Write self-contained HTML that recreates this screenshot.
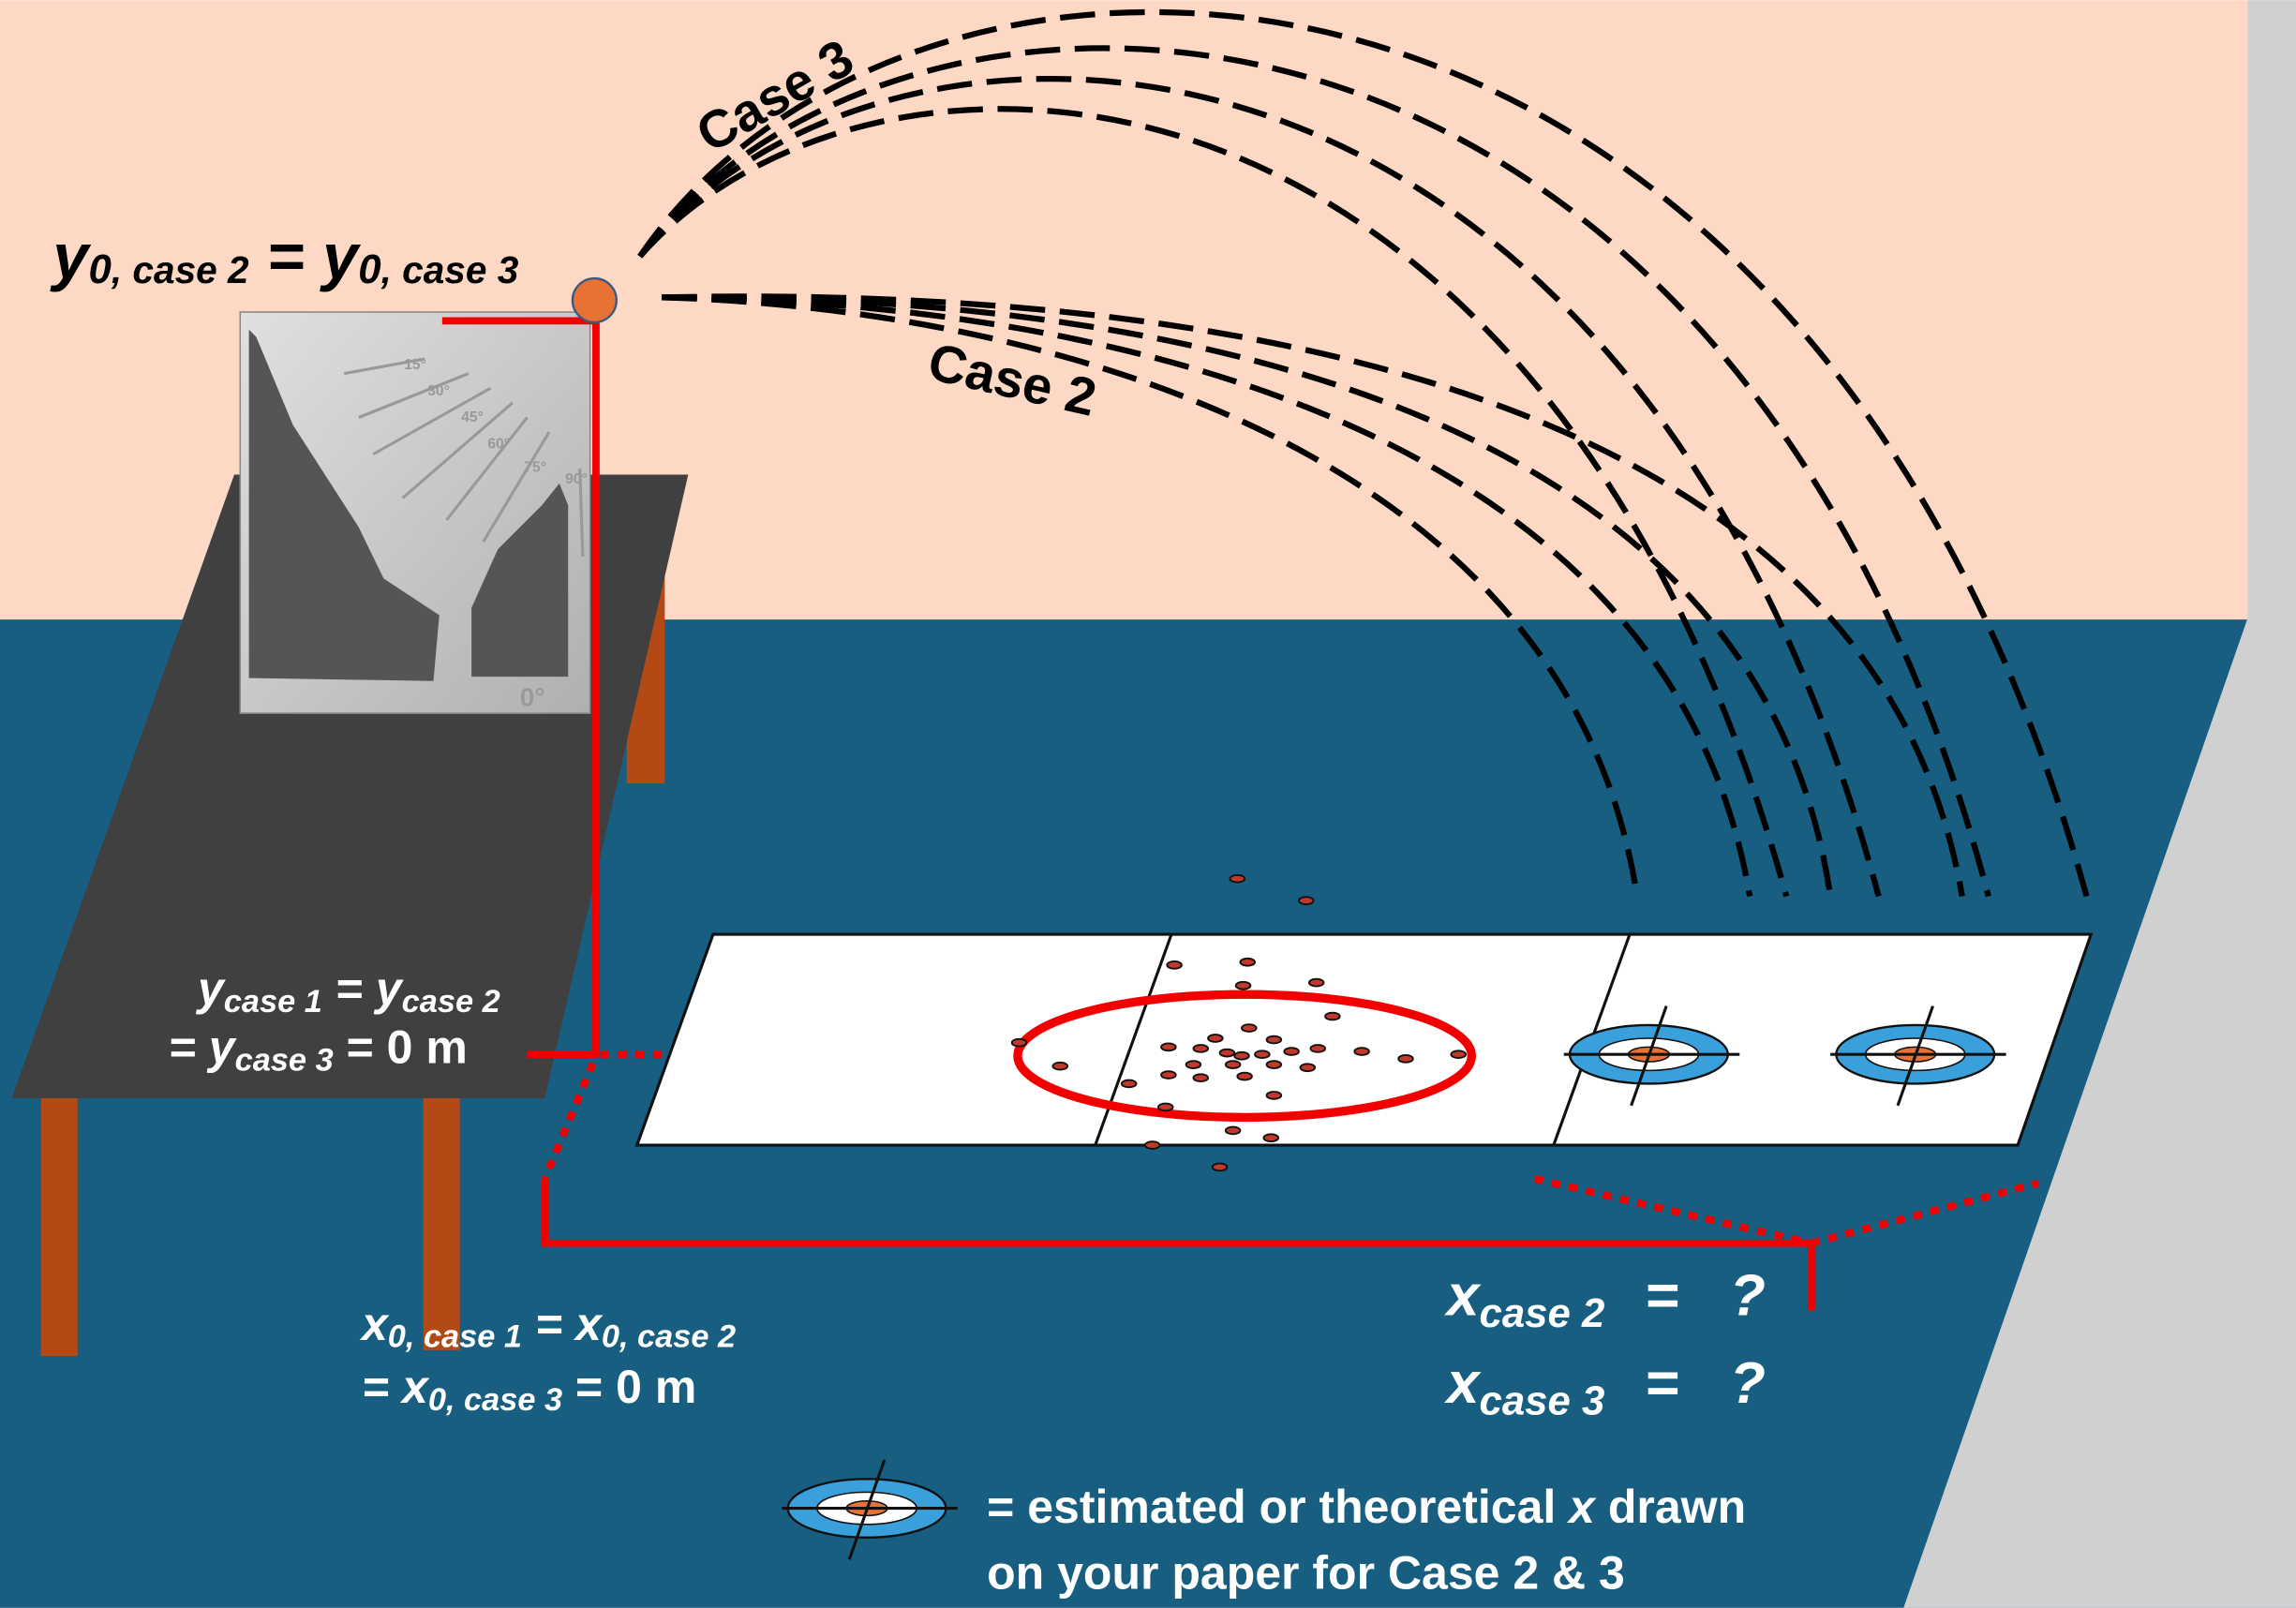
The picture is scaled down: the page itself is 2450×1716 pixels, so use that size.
<!DOCTYPE html>
<html><head><meta charset="utf-8"><style>
html,body{margin:0;padding:0;overflow:hidden;background:#fff}
svg{display:block}
text{font-family:"Liberation Sans",sans-serif;font-weight:bold}
</style></head><body>
<svg width="2450" height="1716" viewBox="0 0 1568 1098" xmlns="http://www.w3.org/2000/svg">
<defs>
<linearGradient id="pg" x1="0" y1="0" x2="1" y2="1">
<stop offset="0" stop-color="#e0e0e0"/><stop offset="1" stop-color="#b0b0b0"/></linearGradient>
</defs>
<rect x="0" y="0" width="1568" height="423" fill="#FDD9C5"/>
<rect x="0" y="423" width="1568" height="675" fill="#175E80"/>
<polygon points="1535,0 1568,0 1568,1098 1300,1098 1535,422" fill="#D0D0D0"/>
<rect x="428" y="330" width="26" height="205" fill="#B34A16"/>
<polygon points="160,324 470,324 372,750 8,750" fill="#404040"/>
<rect x="28" y="750" width="25" height="176" fill="#B34A16"/>
<rect x="289" y="750" width="25" height="172" fill="#B34A16"/>
<rect x="164" y="213" width="239" height="274" fill="url(#pg)" stroke="#888" stroke-width="1"/>
<polygon points="170,225 175,230 200,290 245,360 262,395 300,420 296,465 173,463 170,463" fill="#555"/>
<polygon points="322,415 340,375 370,345 382,330 388,345 388,462 322,462" fill="#555"/>
<g stroke="#999" stroke-width="2">
<line x1="235" y1="255" x2="290" y2="245"/><line x1="245" y1="285" x2="320" y2="255"/>
<line x1="255" y1="310" x2="335" y2="265"/><line x1="275" y1="340" x2="350" y2="275"/>
<line x1="305" y1="355" x2="360" y2="285"/><line x1="330" y1="370" x2="375" y2="295"/>
<line x1="396" y1="320" x2="398" y2="380"/></g>
<g fill="#999" font-size="10" style="font-weight:normal"><text x="276" y="252">15°</text><text x="292" y="270">30°</text><text x="315" y="288">45°</text><text x="333" y="306">60°</text><text x="358" y="322">75°</text><text x="386" y="330">90°</text><text x="355" y="482" font-size="18">0°</text></g>
<g stroke="#F20000" stroke-width="5" fill="none">
<polyline points="302,219 407,219 407,722"/>
<line x1="360" y1="720" x2="407" y2="720"/>
<polyline points="372,805 372,849 1237,849 1237,895"/>
</g>
<g stroke="#F20000" stroke-width="5" fill="none" stroke-dasharray="6 6">
<line x1="410" y1="720" x2="695" y2="720"/>
<line x1="405" y1="726" x2="372" y2="805"/>
<line x1="1048" y1="805" x2="1237" y2="849"/>
<line x1="1237" y1="849" x2="1392" y2="808"/>
</g>
<circle cx="406" cy="205" r="15" fill="#E87236" stroke="#3a5a80" stroke-width="1.5"/>
<polygon points="487,638 1428,638 1378,782 435,782" fill="#fff" stroke="#111" stroke-width="2"/>
<line x1="800" y1="638" x2="748" y2="782" stroke="#111" stroke-width="2"/>
<line x1="1113" y1="638" x2="1061" y2="782" stroke="#111" stroke-width="2"/>
<ellipse cx="850" cy="721" rx="155" ry="42" fill="none" stroke="#F20000" stroke-width="6"/>
<g fill="#C0392B" stroke="#111" stroke-width="1.2">
<ellipse cx="845" cy="600" rx="5" ry="2.5"/><ellipse cx="892" cy="615" rx="5" ry="2.5"/>
<ellipse cx="852" cy="657" rx="5" ry="2.5"/><ellipse cx="802" cy="659" rx="5" ry="2.5"/>
<ellipse cx="849" cy="673" rx="5" ry="2.5"/><ellipse cx="899" cy="671" rx="5" ry="2.5"/>
<ellipse cx="910" cy="694" rx="5" ry="2.5"/><ellipse cx="853" cy="702" rx="5" ry="2.5"/>
<ellipse cx="830" cy="709" rx="5" ry="2.5"/><ellipse cx="870" cy="710" rx="5" ry="2.5"/>
<ellipse cx="696" cy="712" rx="5" ry="2.5"/><ellipse cx="798" cy="715" rx="5" ry="2.5"/>
<ellipse cx="820" cy="716" rx="5" ry="2.5"/><ellipse cx="838" cy="719" rx="5" ry="2.5"/>
<ellipse cx="848" cy="721" rx="5" ry="2.5"/><ellipse cx="862" cy="720" rx="5" ry="2.5"/>
<ellipse cx="882" cy="718" rx="5" ry="2.5"/><ellipse cx="900" cy="716" rx="5" ry="2.5"/>
<ellipse cx="930" cy="718" rx="5" ry="2.5"/><ellipse cx="960" cy="723" rx="5" ry="2.5"/>
<ellipse cx="996" cy="720" rx="5" ry="2.5"/><ellipse cx="724" cy="728" rx="5" ry="2.5"/>
<ellipse cx="815" cy="727" rx="5" ry="2.5"/><ellipse cx="842" cy="727" rx="5" ry="2.5"/>
<ellipse cx="870" cy="727" rx="5" ry="2.5"/><ellipse cx="893" cy="729" rx="5" ry="2.5"/>
<ellipse cx="798" cy="734" rx="5" ry="2.5"/><ellipse cx="820" cy="736" rx="5" ry="2.5"/>
<ellipse cx="850" cy="735" rx="5" ry="2.5"/><ellipse cx="771" cy="740" rx="5" ry="2.5"/>
<ellipse cx="870" cy="748" rx="5" ry="2.5"/><ellipse cx="796" cy="756" rx="5" ry="2.5"/>
<ellipse cx="842" cy="772" rx="5" ry="2.5"/><ellipse cx="868" cy="777" rx="5" ry="2.5"/>
<ellipse cx="787" cy="782" rx="5" ry="2.5"/><ellipse cx="833" cy="797" rx="5" ry="2.5"/>
</g>
<g id="tg">
<ellipse cx="1126" cy="720" rx="54" ry="20" fill="#3AA0DB" stroke="#111" stroke-width="1.5"/>
<ellipse cx="1126" cy="720" rx="34" ry="11" fill="#fff" stroke="#111" stroke-width="1"/>
<ellipse cx="1126" cy="720" rx="14" ry="5" fill="#E87236" stroke="#111" stroke-width="1"/>
<line x1="1068" y1="720" x2="1188" y2="720" stroke="#111" stroke-width="2"/>
<line x1="1138" y1="687" x2="1114" y2="755" stroke="#111" stroke-width="2"/>
</g>
<use href="#tg" x="182"/>
<use href="#tg" x="-534" y="310"/>
<g fill="none" stroke="#000" stroke-width="4" stroke-dasharray="24 10">
<path d="M437,175 C620,-95 1230,-95 1425,612"/>
<path d="M437,175 C610,-60 1180,-60 1358,612"/>
<path d="M437,175 C600,-30 1110,-30 1283,612"/>
<path d="M437,175 C590,0 1050,0 1220,612"/>
<path d="M452,203 C820,195 1280,260 1340,612"/>
<path d="M452,203 C780,200 1200,270 1250,612"/>
<path d="M452,203 C740,205 1140,285 1195,612"/>
<path d="M452,203 C700,210 1070,300 1118,612"/>
</g>
<text x="0" y="0" font-size="36" transform="translate(485,105) rotate(-30)">Case 3</text>
<text x="0" y="0" font-size="36" transform="translate(632,258) rotate(13)">Case 2</text>
<g font-style="italic">
<text x="36" y="190" font-size="44" fill="#000">y<tspan font-size="28" dy="3">0</tspan><tspan font-size="26">, case 2</tspan><tspan dy="-3"> = y</tspan><tspan font-size="28" dy="3">0</tspan><tspan font-size="26">, case 3</tspan></text>
<g fill="#fff">
<text x="135" y="686" font-size="32">y<tspan font-size="22" dy="5">case 1</tspan><tspan dy="-5"> = y</tspan><tspan font-size="22" dy="5">case 2</tspan></text>
<text x="115" y="726" font-size="32">= y<tspan font-size="22" dy="5">case 3</tspan><tspan font-style="normal" dy="-5"> = 0 m</tspan></text>
<text x="247" y="915" font-size="32">x<tspan font-size="22" dy="5">0, case 1</tspan><tspan dy="-5"> = x</tspan><tspan font-size="22" dy="5">0, case 2</tspan></text>
<text x="247" y="958" font-size="32">= x<tspan font-size="22" dy="5">0, case 3</tspan><tspan font-style="normal" dy="-5"> = 0 m</tspan></text>
<text x="988" y="898" font-size="40">x<tspan font-size="28" dy="8">case 2</tspan><tspan dx="28" dy="-8" font-style="normal">=</tspan><tspan dx="34">?</tspan></text>
<text x="988" y="958" font-size="40">x<tspan font-size="28" dy="8">case 3</tspan><tspan dx="28" dy="-8" font-style="normal">=</tspan><tspan dx="34">?</tspan></text>
</g></g>
<text x="674" y="1040" font-size="32" fill="#fff">= estimated or theoretical <tspan font-style="italic">x</tspan> drawn</text>
<text x="674" y="1085" font-size="32" fill="#fff">on your paper for Case 2 &amp; 3</text>
</svg>
</body></html>
